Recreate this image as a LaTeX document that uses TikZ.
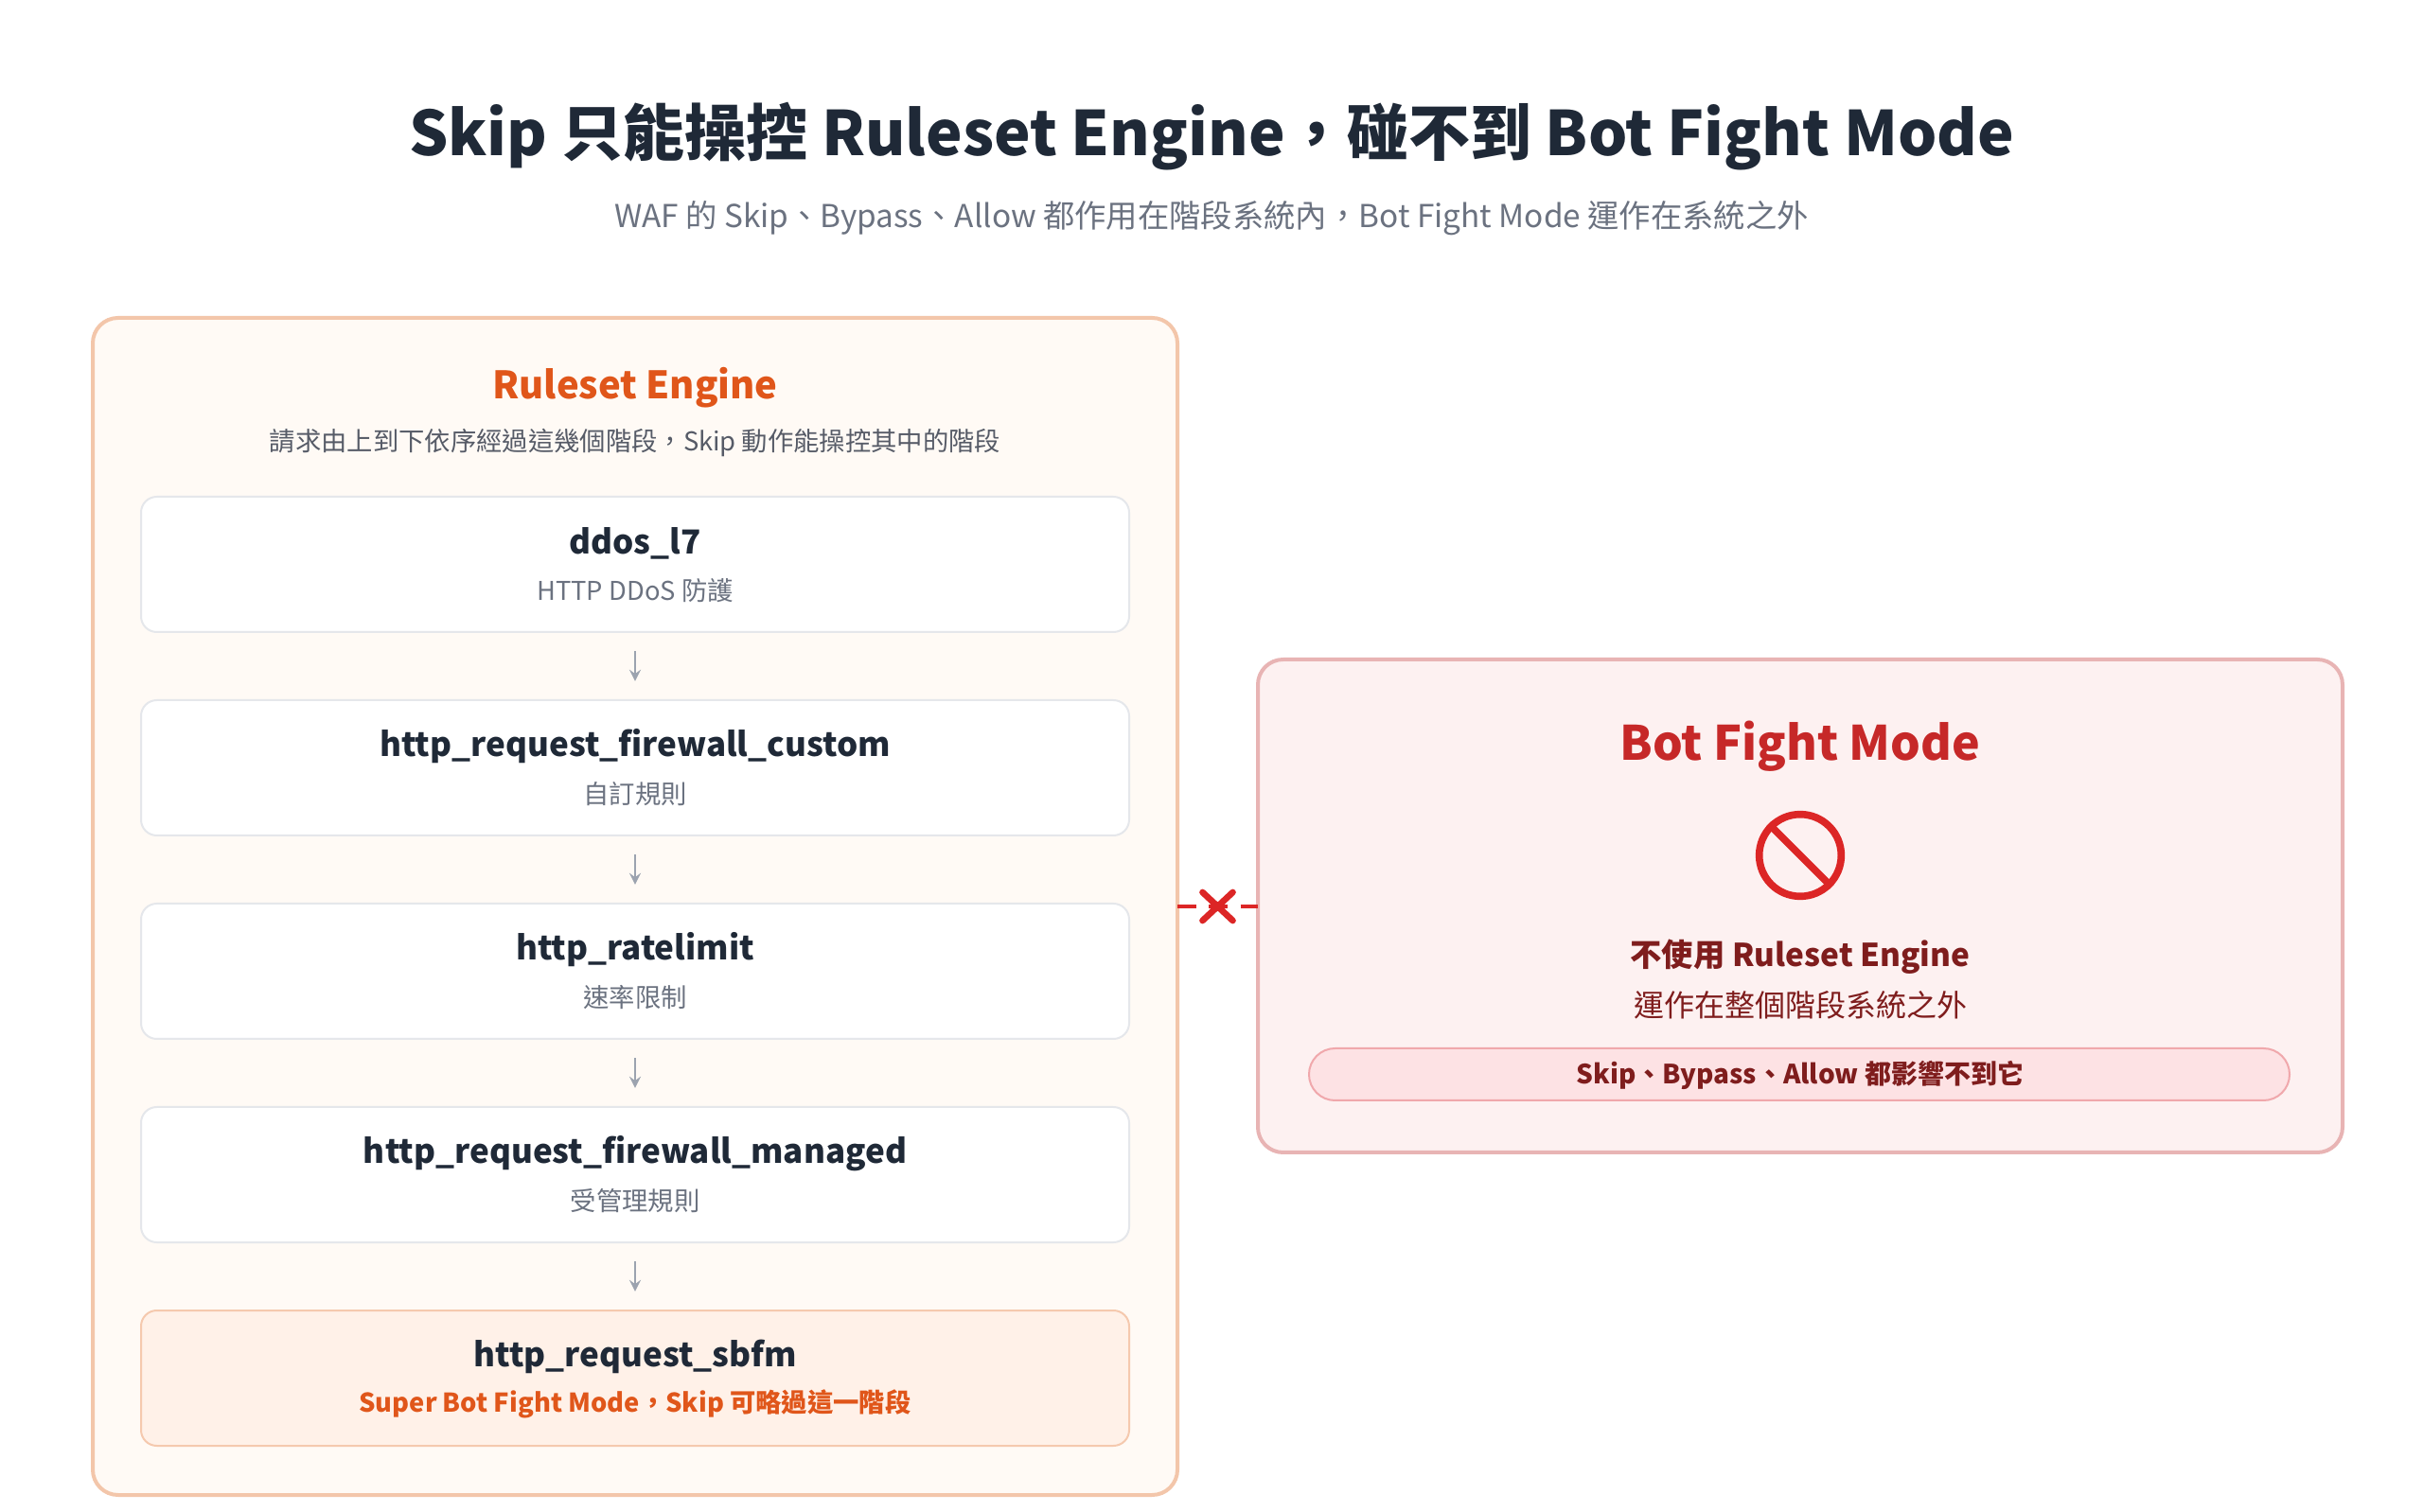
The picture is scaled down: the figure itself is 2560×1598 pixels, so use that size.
\documentclass[tikz,border=0pt]{standalone}
\usepackage{fontspec}
\setmainfont{Noto Sans CJK TC}
\begin{document}
\begin{tikzpicture}[x=0.3pt,y=-0.3pt,
  stage/.style={draw=#1,line width=0.6pt,rounded corners=5pt},
  ttl/.style={font=\bfseries\fontsize{10.5}{12}\selectfont,text=dark},
  sub/.style={font=\fontsize{8.2}{10}\selectfont,text=gray1},
  arr/.style={->,>=stealth,draw=gray2,line width=0.6pt}]
\definecolor{dark}{HTML}{1F2937}
\definecolor{gray1}{HTML}{6B7280}
\definecolor{gray2}{HTML}{9CA3AF}
\definecolor{orng}{HTML}{E0561A}
\definecolor{lpan}{HTML}{FFFAF5}
\definecolor{lbord}{HTML}{F3C6AA}
\definecolor{rpan}{HTML}{FDF1F1}
\definecolor{rbord}{HTML}{E8B4B4}
\definecolor{red1}{HTML}{C62828}
\definecolor{red2}{HTML}{DC2626}
\definecolor{dred}{HTML}{7F1D1D}
\definecolor{pill}{HTML}{FDE2E4}
\definecolor{pillb}{HTML}{F0A8AC}
\definecolor{sbox}{HTML}{FFF1E8}
\definecolor{sboxb}{HTML}{F5C9AE}
\definecolor{boxb}{HTML}{E5E7EB}
\useasboundingbox[fill=white] (0,0) rectangle (2560,1598);
\node[font=\bfseries\fontsize{19.5}{22}\selectfont,text=dark] (title) at (1280,144) {Skip 只能操控 Ruleset Engine，碰不到 Bot Fight Mode};
\node[font=\fontsize{10}{12}\selectfont,text=gray1] (subt) at (1280,231) {WAF 的 Skip、Bypass、Allow 都作用在階段系統內，Bot Fight Mode 運作在系統之外};
% left panel
\draw[fill=lpan,draw=lbord,line width=1.2pt,rounded corners=8pt] (98,336) rectangle (1244,1580);
\coordinate (lpr) at (1244,958);
\node[font=\bfseries\fontsize{12}{14}\selectfont,text=orng] (rh) at (671,410) {Ruleset Engine};
\node[sub,text=gray1!80!black] (rs) at (671,468) {請求由上到下依序經過這幾個階段，Skip 動作能操控其中的階段};
\foreach \i/\y/\a/\b in {1/525/ddos\_l7/HTTP DDoS 防護,2/740/http\_request\_firewall\_custom/自訂規則,3/955/http\_ratelimit/速率限制,4/1170/http\_request\_firewall\_managed/受管理規則}{
  \draw[stage=boxb,fill=white] (149,\y) rectangle (1193,\y+143);
  \node[ttl] (t\i) at (671,\y+49) {\a};
  \node[sub] (s\i) at (671,\y+99) {\b};
  \coordinate (top\i) at (671,\y);
  \coordinate (bot\i) at (671,\y+143);
}
\draw[stage=sboxb,fill=sbox] (149,1385) rectangle (1193,1528);
\node[ttl] (t5) at (671,1434) {http\_request\_sbfm};
\node[sub,font=\bfseries\fontsize{8.2}{10}\selectfont,text=orng] (s5) at (671,1484) {Super Bot Fight Mode，Skip 可略過這一階段};
\coordinate (top5) at (671,1385);
\foreach \i/\j in {1/2,2/3,3/4,4/5}{
  \path (bot\i) -- (top\j) coordinate[pos=0.28] (p\i) coordinate[pos=0.72] (q\i);
  \draw[arr] (p\i) -- (q\i);
}
% right panel
\draw[fill=rpan,draw=rbord,line width=1.2pt,rounded corners=8pt] (1329,697) rectangle (2475,1218);
\coordinate (rpl) at (1329,958);
\node[font=\bfseries\fontsize{15}{18}\selectfont,text=red1] (bh) at (1902,789) {Bot Fight Mode};
\node[circle,draw=red2,line width=2.3pt,minimum size=26pt,inner sep=0pt] (noicon) at (1902,904) {};
\draw[red2,line width=2.3pt] (noicon.north west) -- (noicon.south east);
\node[font=\bfseries\fontsize{10}{12}\selectfont,text=dred] (b1) at (1902,1011) {不使用 Ruleset Engine};
\node[font=\fontsize{9.6}{12}\selectfont,text=dred] (b2) at (1902,1062) {運作在整個階段系統之外};
\draw[fill=pill,draw=pillb,line width=0.6pt,rounded corners=8.25pt] (1383,1108) rectangle (2419,1163);
\node[font=\bfseries\fontsize{8.4}{10}\selectfont,text=dred] (pt) at (1902,1136) {Skip、Bypass、Allow 都影響不到它};
% connector
\draw[red2,line width=1.2pt,dash pattern=on 6pt off 4pt] (lpr) -- (rpl) coordinate[midway] (xm);
\draw[red2,line width=2pt,line cap=round] ([shift={(-16,-15)}]xm) -- ([shift={(16,15)}]xm) ([shift={(-16,15)}]xm) -- ([shift={(16,-15)}]xm);
\end{tikzpicture}
\end{document}
